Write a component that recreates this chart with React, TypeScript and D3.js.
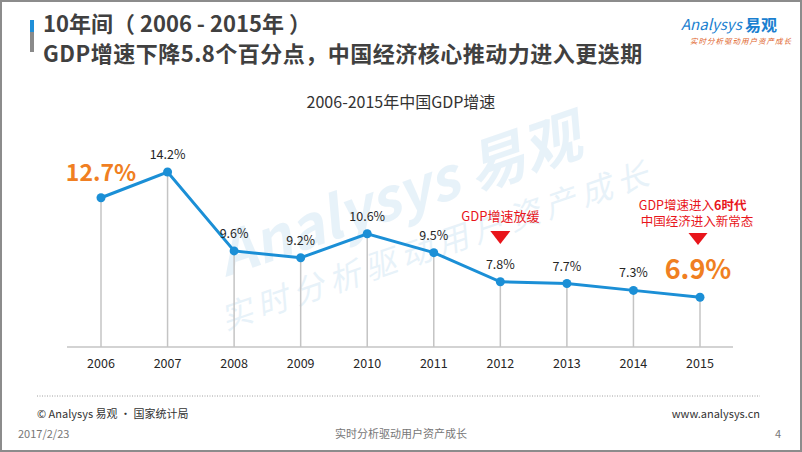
import React from "react";
import * as d3 from "d3";

const years = ["2006", "2007", "2008", "2009", "2010", "2011", "2012", "2013", "2014", "2015"];
const gdpGrowth = [12.7, 14.2, 9.6, 9.2, 10.6, 9.5, 7.8, 7.7, 7.3, 6.9];
const highlightYears = ["2006", "2015"];
const titleLine1 = "10年间（ 2006 - 2015年 ）";
const titleLine2 = "GDP增速下降5.8个百分点，中国经济核心推动力进入更迭期";
const chartTitle = "2006-2015年中国GDP增速";
const note2012 = "GDP增速放缓";
const note2015a = ["GDP增速进入", "6时代"];
const note2015b = "中国经济进入新常态";

const W = 802;
const H = 452;
const FONT = "'Noto Sans CJK SC', 'Noto Sans', sans-serif";
const BLUE = "#1b8fd6";
const ORANGE = "#f07f22";
const RED = "#e8151b";

export default function App() {
  const x = d3.scalePoint<string>().domain(years).range([101, 700]);
  const y = d3.scaleLinear().domain([4, 14.2]).range([347, 172]);
  const data = years.map((yr, i) => ({ yr, v: gdpGrowth[i] }));
  const line = d3
    .line<{ yr: string; v: number }>()
    .x((d) => x(d.yr) as number)
    .y((d) => y(d.v));
  const baseY = y(4);

  const tri = (cx: number, top: number, w: number, h: number) =>
    `M${cx - w / 2},${top}L${cx + w / 2},${top}L${cx},${top + h}Z`;

  const x2012 = x("2012") as number;
  const x2015 = x("2015") as number;

  return (
    <svg
      width={W}
      height={H}
      style={{ position: "absolute", left: 0, top: 0, display: "block", background: "#fff" }}
      fontFamily={FONT}
    >
      <rect x={1} y={1} width={W - 2} height={H - 2} fill="#fff" stroke="#8c8c8c" strokeWidth={2} />

      {/* watermark */}
      <g transform="translate(415,212) rotate(-19)" opacity={0.14} fill="#5fa6d6">
        <text x={-10} y={0} fontSize={58} fontWeight="bold" textAnchor="middle" fontStyle="italic">
          Analysys 易观
        </text>
        <text x={10} y={50} fontSize={32} textAnchor="middle" fontStyle="italic" letterSpacing={6}>
          实时分析驱动用户资产成长
        </text>
      </g>

      {/* header */}
      <rect x={30} y={20} width={4} height={12} fill="#1f8fd8" />
      <rect x={30} y={32} width={4} height={20} fill="#8a8a8a" />
      <text x={43} y={32} fontSize={22} fontWeight="bold" fill="#404040">
        {titleLine1}
      </text>
      <text x={43} y={62} fontSize={22} fontWeight="bold" fill="#404040" letterSpacing={0.5}>
        {titleLine2}
      </text>

      {/* logo */}
      <text x={681} y={30} fontSize={15} fill="#1a7fd0" fontStyle="italic">
        Analysys
      </text>
      <text x={745} y={31} fontSize={16} fontWeight="bold" fill="#1a7fd0">
        易观
      </text>
      <text x={690} y={44} fontSize={7.5} fill="#e0642a" fontStyle="italic" letterSpacing={1}>
        实时分析驱动用户资产成长
      </text>

      {/* chart title */}
      <text x={W / 2} y={108} fontSize={16} fill="#333" textAnchor="middle">
        {chartTitle}
      </text>

      {/* drop lines */}
      {data.map((d) => (
        <line
          key={"d" + d.yr}
          x1={x(d.yr)}
          x2={x(d.yr)}
          y1={y(d.v)}
          y2={baseY}
          stroke="#c4c4c4"
          strokeWidth={1.5}
        />
      ))}
      <line x1={67} x2={733} y1={baseY} y2={baseY} stroke="#c4c4c4" strokeWidth={1.5} />

      {/* year labels */}
      {years.map((yr) => (
        <text key={"t" + yr} x={x(yr)} y={368} fontSize={12.5} fill="#262626" textAnchor="middle">
          {yr}
        </text>
      ))}

      {/* line */}
      <path d={line(data) || ""} fill="none" stroke={BLUE} strokeWidth={3} />
      {data.map((d) => (
        <circle key={"c" + d.yr} cx={x(d.yr)} cy={y(d.v)} r={4.5} fill={BLUE} />
      ))}

      {/* value labels */}
      {data.map((d) => {
        const hl = highlightYears.includes(d.yr);
        if (hl) {
          const isFirst = d.yr === years[0];
          return (
            <text
              key={"v" + d.yr}
              x={(x(d.yr) as number) + (isFirst ? 0 : -2)}
              y={isFirst ? y(d.v) - 17 : y(d.v) - 18}
              fontSize={isFirst ? 23 : 27}
              fontWeight="bold"
              fill={ORANGE}
              textAnchor="middle"
            >
              {d.v.toFixed(1)}%
            </text>
          );
        }
        return (
          <text
            key={"v" + d.yr}
            x={x(d.yr)}
            y={y(d.v) - 13}
            fontSize={12.5}
            fill="#262626"
            textAnchor="middle"
          >
            {d.v.toFixed(1)}%
          </text>
        );
      })}

      {/* annotations */}
      <text x={x2012} y={221} fontSize={13} fill={RED} textAnchor="middle">
        {note2012}
      </text>
      <path d={tri(x2012, 231, 20, 13)} fill={RED} />

      <text x={x2015 + 14} y={210} fontSize={12.5} fill={RED} textAnchor="end">
        {note2015a[0]}
      </text>
      <text x={x2015 + 14} y={210} fontSize={12.5} fill={RED} fontWeight="bold" textAnchor="start">
        {note2015a[1]}
      </text>
      <text x={x2015 - 3} y={226} fontSize={12.5} fill={RED} textAnchor="middle">
        {note2015b}
      </text>
      <path d={tri(x2015 - 2, 233, 19, 12)} fill={RED} />

      {/* footer */}
      <line x1={37} x2={760} y1={396} y2={396} stroke="#a0a0a0" strokeWidth={1} strokeDasharray="1,1.5" />
      <text x={37} y={418} fontSize={11} fill="#333">
        © Analysys 易观 · 国家统计局
      </text>
      <text x={760} y={418} fontSize={11} fill="#333" textAnchor="end">
        www.analysys.cn
      </text>
      <text x={18} y={438} fontSize={11} fill="#777">
        2017/2/23
      </text>
      <text x={W / 2} y={438} fontSize={11} fill="#777" textAnchor="middle">
        实时分析驱动用户资产成长
      </text>
      <text x={778} y={438} fontSize={11} fill="#777" textAnchor="middle">
        4
      </text>
    </svg>
  );
}
